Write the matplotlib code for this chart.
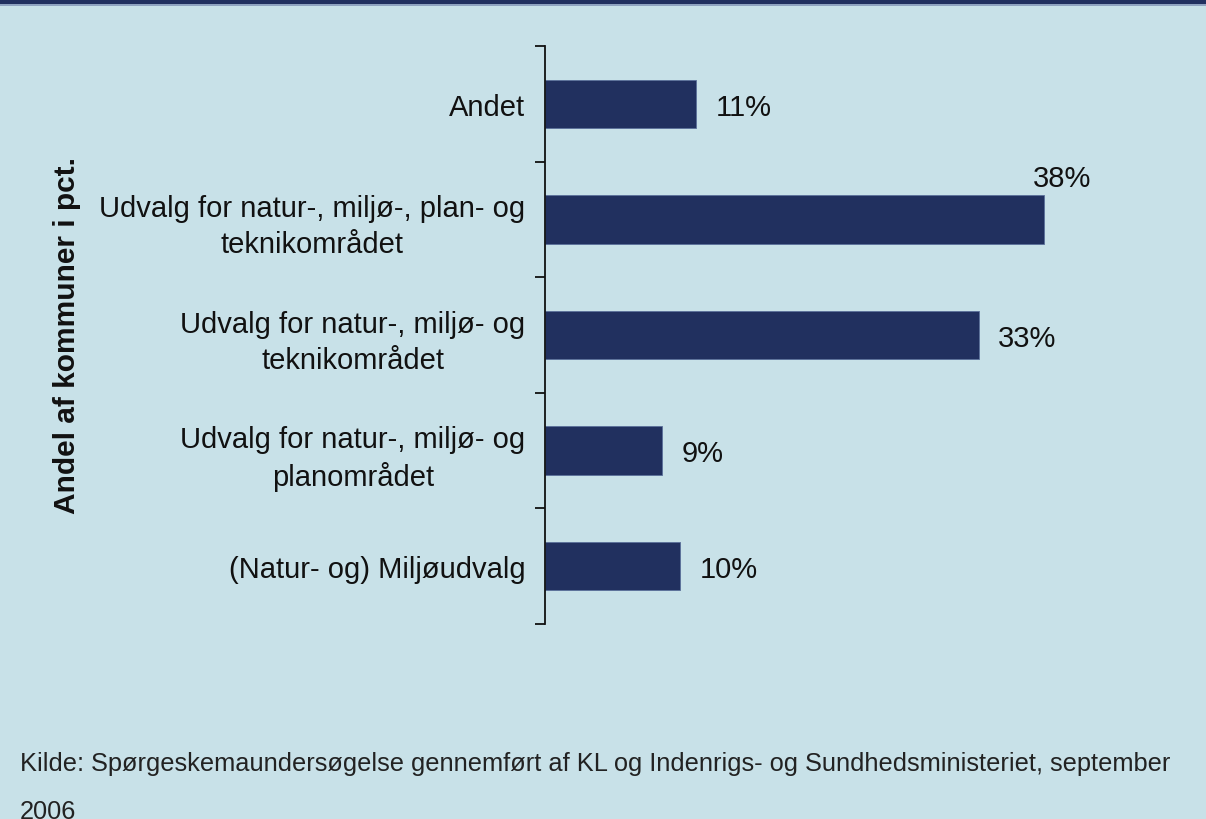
import matplotlib
matplotlib.use('Agg')
from matplotlib import pyplot as plt
from matplotlib.patches import Rectangle

# data, top to bottom as in the chart
categories = ['Andet',
              'Udvalg for natur-, miljø-, plan- og\nteknikområdet',
              'Udvalg for natur-, miljø- og\nteknikområdet',
              'Udvalg for natur-, miljø- og\nplanområdet',
              '(Natur- og) Miljøudvalg']
values = [11.5, 38.0, 33.0, 8.9, 10.3]
value_labels = ['11%', '38%', '33%', '9%', '10%']

bg = '#c8e1e8'
navy = '#21305f'

plt.rcParams['font.family'] = ['Liberation Sans', 'DejaVu Sans']

fig = plt.figure(figsize=(12.06, 8.2), dpi=100, facecolor=bg)
ax = fig.add_axes([545 / 1206, 1 - 625 / 820, 552 / 1206, 578 / 820])
ax.set_facecolor(bg)

n = len(categories)
ypos = list(range(n - 1, -1, -1))
ax.barh(ypos, values, height=0.42, color=navy, edgecolor='#5a6f9a', linewidth=0.6)

ax.set_xlim(0, 42)
ax.set_ylim(-0.5, n - 0.5)

for sp in ['top', 'right', 'bottom']:
    ax.spines[sp].set_visible(False)
ax.spines['left'].set_linewidth(1.3)
ax.spines['left'].set_color('#111111')
ax.set_xticks([])

ax.set_yticks(ypos)
ax.set_yticklabels(categories, fontsize=21, color='#111111', multialignment='center',
                   linespacing=1.35)
ax.tick_params(axis='y', which='major', length=0, pad=14)
ax.set_yticks([i - 0.5 for i in range(n + 1)], minor=True)
ax.tick_params(axis='y', which='minor', length=7, width=1.3, color='#111111', direction='out')

for y, v, lab in zip(ypos, values, value_labels):
    if v > 35:
        # label does not fit to the right, put it above the bar end
        ax.annotate(lab, (v, y + 0.21), xytext=(-8, 2), textcoords='offset points',
                    ha='left', va='bottom', fontsize=21, color='#111111')
    else:
        ax.annotate(lab, (v, y), xytext=(14, -2), textcoords='offset points',
                    ha='left', va='center', fontsize=21, color='#111111')

ax.set_ylabel('Andel af kommuner i pct.', fontsize=21.5, fontweight='bold', color='#111111')
ax.yaxis.set_label_coords(-478 / 552, 0.5)
ax.yaxis.label.set_va('center')

# dark band at the top
fig.patches.append(Rectangle((0, 1 - 5 / 820), 1, 5 / 820, transform=fig.transFigure,
                             facecolor=navy, edgecolor='none'))
fig.patches.append(Rectangle((0, 1 - 7 / 820), 1, 2 / 820, transform=fig.transFigure,
                             facecolor='#8fa3c0', edgecolor='none'))

fig.text(20 / 1206, 1 - 752 / 820,
         'Kilde: Spørgeskemaundersøgelse gennemført af KL og Indenrigs- og Sundhedsministeriet, september\n2006',
         fontsize=18.3, color='#222222', ha='left', va='top', linespacing=2.25)

fig.savefig('out.png', dpi=100, facecolor=bg)
